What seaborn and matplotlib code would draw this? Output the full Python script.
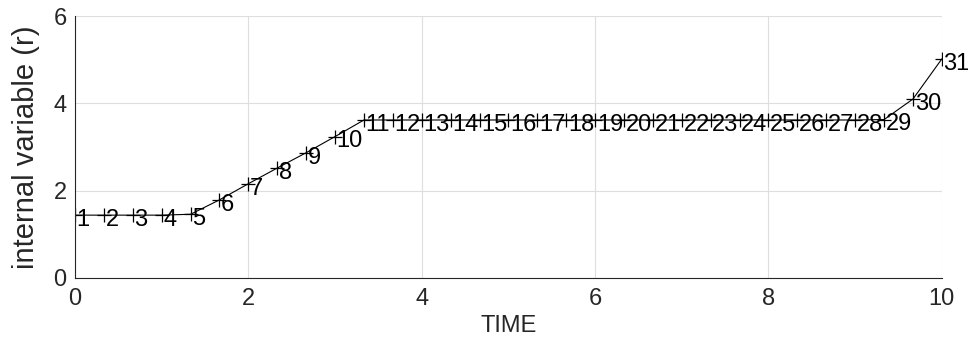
import numpy as np
import pandas as pd
import matplotlib
matplotlib.use("Agg")
import matplotlib.pyplot as plt
import seaborn as sns

# Sample times (31 steps of 1/3 over 0..10) and the internal variable r
time = [0.0, 1/3, 2/3, 1.0, 4/3, 5/3, 2.0, 7/3, 8/3, 3.0, 10/3,
        11/3, 4.0, 13/3, 14/3, 5.0, 16/3, 17/3, 6.0, 19/3, 20/3,
        7.0, 22/3, 23/3, 8.0, 25/3, 26/3, 9.0, 28/3, 29/3, 10.0]
r_values = [1.44, 1.44, 1.44, 1.44, 1.46, 1.79, 2.16, 2.52, 2.87, 3.24, 3.62,
            3.62, 3.62, 3.62, 3.62, 3.62, 3.62, 3.62, 3.62, 3.62, 3.62,
            3.62, 3.62, 3.62, 3.62, 3.62, 3.62, 3.62, 3.63, 4.10, 5.02]
point_labels = [str(i) for i in range(1, 32)]
x_ticks = [0, 2, 4, 6, 8, 10]
y_ticks = [0, 2, 4, 6]

df = pd.DataFrame({"TIME": time, "r": r_values, "label": point_labels})

sns.set_theme(style="whitegrid")
plt.rcParams["font.family"] = ["Liberation Sans", "DejaVu Sans"]

fig = plt.figure(figsize=(9.68, 3.58), dpi=100)
ax = fig.add_axes([0.0775, 0.2235, 0.8955, 0.7315])

sns.lineplot(data=df, x="TIME", y="r", ax=ax, color="black", linewidth=0.8,
             marker="+", markersize=10, markeredgewidth=0.9,
             markeredgecolor="black")

for _, row in df.iterrows():
    ax.annotate(row["label"], (row["TIME"], row["r"]), xytext=(1.2, -3.5),
                textcoords="offset points", ha="left", va="center",
                fontsize=17, color="black")

ax.set_xlim(0, 10)
ax.set_ylim(0, 6)
ax.set_xticks(x_ticks)
ax.set_yticks(y_ticks)
ax.set_xlabel("TIME", fontsize=17, color="#262626", labelpad=4)
ax.set_ylabel("internal variable (r)", fontsize=21, color="#262626", labelpad=10)
ax.tick_params(axis="both", direction="in", length=5, width=0.8,
               colors="#262626", labelsize=17, pad=6)
ax.tick_params(axis="x", pad=7)

ax.grid(True, color="#dedede", linewidth=0.8)
ax.set_facecolor("white")
for side in ["top", "right"]:
    ax.spines[side].set_visible(False)
for side in ["left", "bottom"]:
    ax.spines[side].set_color("#262626")
    ax.spines[side].set_linewidth(0.8)

fig.savefig("out.png", dpi=100, facecolor="white")
